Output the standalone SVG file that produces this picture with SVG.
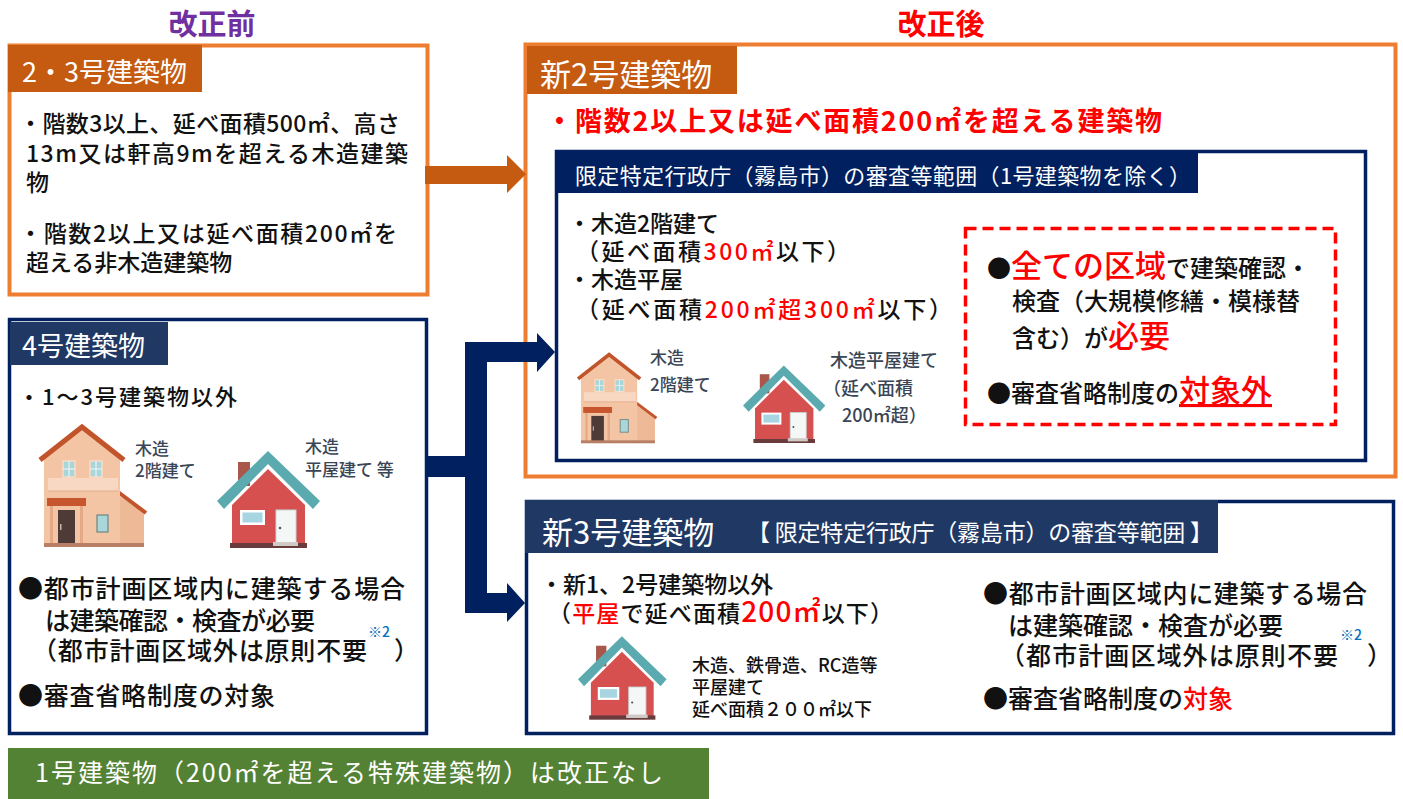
<svg xmlns="http://www.w3.org/2000/svg" xmlns:xlink="http://www.w3.org/1999/xlink" width="1403" height="799" viewBox="0 0 1403 799">
  <style>
    text { font-family: "Noto Sans CJK JP", "Noto Sans CJK SC", sans-serif; font-weight: 500; fill: #111; }
    .w { fill: #fff; font-weight: 400; }
    .r { fill: #FF0000; }
    .note { fill: #0070C0; font-size: 14px; }
    .lbl { fill: #3A4656; font-size: 17px; }
    .lbl18 { fill: #3A4656; font-size: 18px; }
    .lbl3 { fill: #111; font-size: 18px; }
    .box-or { fill: #fff; stroke: #ED7D31; stroke-width: 4; }
    .box-nv { fill: #fff; stroke: #002060; stroke-width: 3.5; }
    .tab-or { fill: #C55A11; }
    .tab-nv { fill: #203864; }
  </style>
  <defs>
    <!-- two-storey wooden house, local size 105 x 122 -->
    <g id="house-2f">
      <polygon points="78,70 104,88 104,120 78,120" fill="#EDB996"/>
      <line x1="78" y1="67" x2="106" y2="88" stroke="#C2542B" stroke-width="4"/>
      <polygon points="4,33 42,4 80,33 80,120 4,120" fill="#F3C5A5"/>
      <polyline points="0,35 42,2 84,35" fill="none" stroke="#C2542B" stroke-width="5"/>
      <rect x="23" y="36" width="12" height="16" fill="#A9D6D8" stroke="#F8DCC8" stroke-width="1.5"/>
      <rect x="50" y="36" width="12" height="16" fill="#A9D6D8" stroke="#F8DCC8" stroke-width="1.5"/>
      <path d="M29 36V52M23 44H35M56 36V52M50 44H62" stroke="#F3F6F6" stroke-width="1"/>
      <rect x="8" y="53" width="70" height="13" fill="#F8D8C2"/>
      <line x1="8" y1="66" x2="78" y2="66" stroke="#E4AD8C" stroke-width="1.2"/>
      <rect x="7" y="73" width="39" height="8" fill="#C7552D"/>
      <rect x="10" y="81" width="3" height="38" fill="#E4A986"/>
      <rect x="40" y="81" width="3" height="38" fill="#E4A986"/>
      <rect x="18" y="85" width="17" height="34" fill="#4E3B37"/>
      <rect x="20" y="99" width="1.5" height="6" fill="#C9B7A8"/>
      <rect x="57" y="90" width="11" height="17" fill="#A9D6D8" stroke="#6F8484" stroke-width="1.2"/>
      <rect x="4" y="118" width="100" height="4" fill="#B97E66"/>
    </g>
    <!-- single-storey house with teal roof, local size 103 x 95 -->
    <g id="house-1f">
      <rect x="21" y="9" width="12" height="24" fill="#A8574A"/>
      <polygon points="15,52 51,16 88,52 88,91 15,91" fill="#D5504F"/>
      <polygon points="0,48 51,-2 103,48 96,56 51,11 7,56" fill="#5BAAAF"/>
      <rect x="23" y="57" width="25" height="15" fill="#fff"/>
      <rect x="25.5" y="59.5" width="20" height="10" fill="#A8D5E2"/>
      <rect x="59" y="57" width="20" height="34" fill="#F4F7F6" stroke="#C7D6D6" stroke-width="1"/>
      <circle cx="63" cy="75" r="1.3" fill="#555"/>
      <rect x="13" y="90" width="77" height="5" fill="#6A3B3C"/>
      <rect x="56" y="89" width="25" height="4" fill="#CFCAC6"/>
    </g>
  </defs>

  <rect width="1403" height="799" fill="#fff"/>

  <!-- column titles -->
  <text x="212" y="35" font-size="29" text-anchor="middle" style="fill:#7030A0;font-weight:700">改正前</text>
  <text x="941" y="35" font-size="29" text-anchor="middle" class="r" style="font-weight:700">改正後</text>

  <!-- former No.2/3 buildings -->
  <g id="old-2-3">
    <rect class="box-or" x="9.5" y="45.5" width="418" height="249"/>
    <rect class="tab-or" x="8" y="45" width="194" height="47"/>
    <text x="22" y="82" font-size="27" class="w">2・3号建築物</text>
    <text font-size="23">
      <tspan x="19" y="132" textLength="381">・階数3以上、延べ面積500㎡、高さ</tspan>
      <tspan x="26" y="162" textLength="382">13m又は軒高9mを超える木造建築</tspan>
      <tspan x="26" y="191">物</tspan>
      <tspan x="19" y="242" textLength="378">・階数2以上又は延べ面積200㎡を</tspan>
      <tspan x="26" y="271">超える非木造建築物</tspan>
    </text>
  </g>

  <!-- former No.4 buildings -->
  <g id="old-4">
    <rect class="box-nv" x="9.5" y="319.5" width="417" height="414"/>
    <rect class="tab-nv" x="10" y="322" width="158" height="43"/>
    <text x="22" y="356" font-size="27" class="w">4号建築物</text>
    <text x="18" y="405" font-size="22" textLength="219">・1～3号建築物以外</text>
    <use xlink:href="#house-2f" transform="translate(40,425)"/>
    <text class="lbl"><tspan x="135" y="455">木造</tspan><tspan x="135" y="477">2階建て</tspan></text>
    <use xlink:href="#house-1f" transform="translate(217,453)"/>
    <text class="lbl"><tspan x="305" y="453">木造</tspan><tspan x="305" y="476">平屋建て 等</tspan></text>
    <text font-size="25">
      <tspan x="18" y="598" textLength="387">●都市計画区域内に建築する場合</tspan>
      <tspan x="45" y="630" textLength="270">は建築確認・検査が必要</tspan>
      <tspan x="32" y="660" textLength="335">（都市計画区域外は原則不要</tspan>
      <tspan x="368" y="637" class="note">※2</tspan>
      <tspan x="394" y="660">）</tspan>
      <tspan x="18" y="705" textLength="257">●審査省略制度の対象</tspan>
    </text>
  </g>

  <!-- new No.2 buildings -->
  <g id="new-2">
    <rect class="box-or" x="525.5" y="44.5" width="870" height="432"/>
    <rect class="tab-or" x="527" y="46" width="210" height="48"/>
    <text x="540" y="86" font-size="31" class="w">新2号建築物</text>
    <text font-size="27" class="r" style="font-weight:700"><tspan x="546" y="131">・</tspan><tspan x="575" y="131" textLength="587">階数2以上又は延べ面積200㎡を超える建築物</tspan></text>

    <g id="new-2-scope">
      <rect x="556.5" y="151.5" width="809" height="309" fill="#fff" stroke="#002060" stroke-width="3.5"/>
      <rect x="555" y="150" width="643" height="43" fill="#002060"/>
      <text x="575" y="184" font-size="22" class="w" textLength="616">限定特定行政庁（霧島市）の審査等範囲（1号建築物を除く）</text>
      <text font-size="23">
        <tspan x="568" y="232">・木造2階建て</tspan>
        <tspan x="576" y="260" textLength="274">（延べ面積<tspan class="r">300㎡</tspan>以下）</tspan>
        <tspan x="568" y="288">・木造平屋</tspan>
        <tspan x="576" y="318" textLength="376">（延べ面積<tspan class="r">200㎡超300㎡</tspan>以下）</tspan>
      </text>
      <use xlink:href="#house-2f" transform="translate(578,353) scale(0.74)"/>
      <text class="lbl"><tspan x="650" y="364">木造</tspan><tspan x="650" y="391">2階建て</tspan></text>
      <use xlink:href="#house-1f" transform="translate(743,367) scale(0.8)"/>
      <text class="lbl18"><tspan x="830" y="367">木造平屋建て</tspan><tspan x="823" y="395">（延べ面積</tspan><tspan x="842" y="422">200㎡超）</tspan></text>
    </g>

    <g id="new-2-note">
      <rect x="965.5" y="228.5" width="370" height="196" fill="none" stroke="#FF0000" stroke-width="3.5" stroke-dasharray="11 6"/>
      <text font-size="24">
        <tspan x="987" y="277">●<tspan class="r" font-size="31">全ての区域</tspan>で建築確認・</tspan>
        <tspan x="1012" y="310">検査（大規模修繕・模様替</tspan>
        <tspan x="1012" y="347">含む）が<tspan class="r" font-size="31">必要</tspan></tspan>
        <tspan x="987" y="402">●審査省略制度の<tspan class="r" font-size="31" text-decoration="underline">対象外</tspan></tspan>
      </text>
    </g>
  </g>

  <!-- new No.3 buildings -->
  <g id="new-3">
    <rect class="box-nv" x="526.5" y="501.5" width="867" height="232"/>
    <rect class="tab-nv" x="525" y="500" width="693" height="53"/>
    <text x="542" y="544" font-size="31" class="w">新3号建築物</text>
    <text x="747" y="541" font-size="23" class="w" textLength="466">【 限定特定行政庁（霧島市）の審査等範囲 】</text>
    <text font-size="23">
      <tspan x="540" y="593">・新1、2号建築物以外</tspan>
      <tspan x="548" y="622" textLength="345">（<tspan class="r">平屋</tspan>で延べ面積<tspan class="r" font-size="28">200㎡</tspan>以下）</tspan>
    </text>
    <use xlink:href="#house-1f" transform="translate(578,638) scale(0.86)"/>
    <text class="lbl3">
      <tspan x="692" y="672">木造、鉄骨造、RC造等</tspan>
      <tspan x="692" y="694">平屋建て</tspan>
      <tspan x="692" y="716">延べ面積２００㎡以下</tspan>
    </text>
    <text font-size="25">
      <tspan x="983" y="603" textLength="384">●都市計画区域内に建築する場合</tspan>
      <tspan x="1008" y="635">は建築確認・検査が必要</tspan>
      <tspan x="1000" y="665" textLength="338">（都市計画区域外は原則不要</tspan>
      <tspan x="1340" y="640" class="note">※2</tspan>
      <tspan x="1367" y="665">）</tspan>
      <tspan x="983" y="708">●審査省略制度の<tspan class="r">対象</tspan></tspan>
    </text>
  </g>

  <!-- No.1 buildings note -->
  <g id="no-1">
    <rect x="8" y="748" width="701" height="51" fill="#548235"/>
    <text x="35" y="782" font-size="25" class="w" textLength="628">1号建築物（200㎡を超える特殊建築物）は改正なし</text>
  </g>

  <!-- arrows between old and new categories -->
  <g id="connectors">
    <polygon points="425,166 507,166 507,155 526,174 507,193 507,184 425,184" fill="#C55A11"/>
    <polygon points="428,456 465,456 465,342 537,342 537,333 555,352 537,372 537,362 487,362 487,593 507,593 507,583 525,603 507,622 507,613 465,613 465,477 428,477" fill="#002060"/>
  </g>
</svg>
